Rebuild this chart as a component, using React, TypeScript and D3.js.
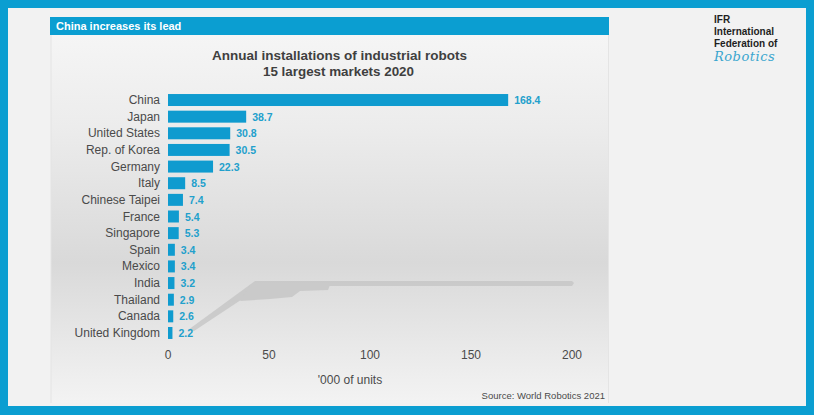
import React from "react";
import * as d3 from "d3";

const countries = ["China","Japan","United States","Rep. of Korea","Germany","Italy","Chinese Taipei","France","Singapore","Spain","Mexico","India","Thailand","Canada","United Kingdom"];
const values = [168.4,38.7,30.8,30.5,22.3,8.5,7.4,5.4,5.3,3.4,3.4,3.2,2.9,2.6,2.2];
const xTicks = [0,50,100,150,200];

const W = 814, H = 415;
const BLUE = "#0b9ed1";
const BAR = "#0f9bcf";
const FONT = "Liberation Sans, Arial, sans-serif";

export default function App() {
  const x = d3.scaleLinear().domain([0, 200]).range([168, 572]);
  const y = d3.scaleBand<string>().domain(countries).range([91.7, 341.3]).paddingInner(0.28).paddingOuter(0.14);
  const bh = y.bandwidth();
  return (
    <svg width={W} height={H} style={{ position: "absolute", left: 0, top: 0 }} fontFamily={FONT}>
      <defs>
        <linearGradient id="pg" x1="0" y1="0" x2="0" y2="1">
          <stop offset="0" stopColor="#f5f5f5" />
          <stop offset="0.25" stopColor="#ececec" />
          <stop offset="0.62" stopColor="#d9d9d9" />
          <stop offset="0.85" stopColor="#e9e9e9" />
          <stop offset="1" stopColor="#f3f3f3" />
        </linearGradient>
      </defs>
      <rect x={0} y={0} width={W} height={H} fill={BLUE} />
      <rect x={8} y={8} width={798} height={398} fill="#f2f2f2" />
      <rect x={51} y={35} width={558} height={368} fill="url(#pg)" />
      <line x1={51} y1={35} x2={51} y2={403} stroke="#e4e4e4" />
      <line x1={608.5} y1={35} x2={608.5} y2={403} stroke="#e4e4e4" />
      <rect x={50} y={17} width={559} height={18} fill={BLUE} />
      <text x={56} y={30} fill="#fff" fontSize={11} fontWeight="bold">China increases its lead</text>

      {/* decorative shadow */}
      <g fill="#c2c2c2" opacity={0.7}>
        <polygon points="188,330 255,281 572,281 574,283 572,286 262,286 194,331" />
        <polygon points="250,285 330,285 328,290 300,291 292,297 270,299 240,301" />
      </g>

      <text x={339.5} y={59.5} textAnchor="middle" fill="#3f3f3f" fontSize={13.5} fontWeight="bold" textLength={255} lengthAdjust="spacingAndGlyphs">Annual installations of industrial robots</text>
      <text x={338.5} y={75.5} textAnchor="middle" fill="#3f3f3f" fontSize={13.5} fontWeight="bold" textLength={151} lengthAdjust="spacingAndGlyphs">15 largest markets 2020</text>

      {countries.map((c, i) => {
        const yy = y(c)!;
        return (
          <g key={c}>
            <text x={160} y={yy + bh / 2 + 4} textAnchor="end" fill="#4a4a4a" fontSize={12}>{c}</text>
            <rect x={x(0)} y={yy} width={x(values[i]) - x(0)} height={bh} fill={BAR} />
            <text x={x(values[i]) + 6} y={yy + bh / 2 + 4} fill="#22a0cc" fontSize={10.5} fontWeight="bold">{values[i].toFixed(1)}</text>
          </g>
        );
      })}

      {xTicks.map(t => (
        <text key={t} x={x(t)} y={359} textAnchor="middle" fill="#4a4a4a" fontSize={12}>{t}</text>
      ))}
      <text x={350} y={384} textAnchor="middle" fill="#4a4a4a" fontSize={12}>'000 of units</text>
      <text x={605} y={399} textAnchor="end" fill="#4a4a4a" fontSize={9.5}>Source: World Robotics 2021</text>

      {/* logo */}
      <g fontSize={10} fontWeight="bold" fill="#1e1e1e">
        <text x={714} y={23}>IFR</text>
        <text x={714} y={35}>International</text>
        <text x={714} y={47}>Federation of</text>
      </g>
      <text x={714} y={61} fontSize={13} fontStyle="italic" fill="#3aa6cf" fontFamily="DejaVu Serif, serif" letterSpacing={0.5}>Robotics</text>
    </svg>
  );
}
